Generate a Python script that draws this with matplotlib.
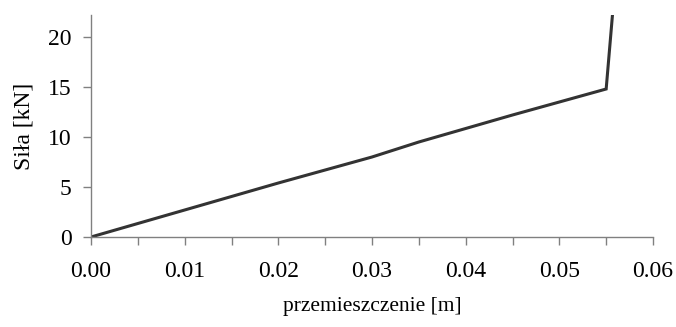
import numpy as np
import matplotlib.pyplot as plt

plt.rcParams['font.family'] = ['Liberation Serif', 'DejaVu Serif']

przem = [0.0, 0.01, 0.02, 0.03, 0.035, 0.045, 0.055, 0.0557]   # przemieszczenie [m]
sila = [0.0, 2.7, 5.4, 8.0, 9.5, 12.2, 14.8, 22.5]             # siła [kN]

fig = plt.figure(figsize=(6.76, 3.27), dpi=100)
ax = fig.add_axes([91 / 676, 1 - 237 / 327, (653 - 91) / 676, (237 - 15) / 327])

ax.plot(przem, sila, color='#333333', lw=2.2, solid_joinstyle='miter')

ax.set_xlim(0, 0.06)
ax.set_ylim(0, 22.2)
ax.set_xticks(np.arange(0, 0.0601, 0.01))
ax.set_xticks(np.arange(0.005, 0.06, 0.01), minor=True)
ax.set_xticklabels(['%.2f' % v for v in np.arange(0, 0.0601, 0.01)])
ax.set_yticks([0, 5, 10, 15, 20])

for s in ['top', 'right']:
    ax.spines[s].set_visible(False)
for s in ['left', 'bottom']:
    ax.spines[s].set_color('#808080')
    ax.spines[s].set_linewidth(1.0)

ax.tick_params(axis='both', which='both', direction='out', color='#808080',
               length=6, width=1.0, labelsize=17)
ax.tick_params(axis='x', which='major', pad=11)
ax.tick_params(axis='y', pad=8)

ax.set_xlabel('przemieszczenie [m]', fontsize=15.5, labelpad=11)
ax.set_ylabel('Siła [kN]', fontsize=17, labelpad=10)

fig.savefig('out.png', dpi=100)
